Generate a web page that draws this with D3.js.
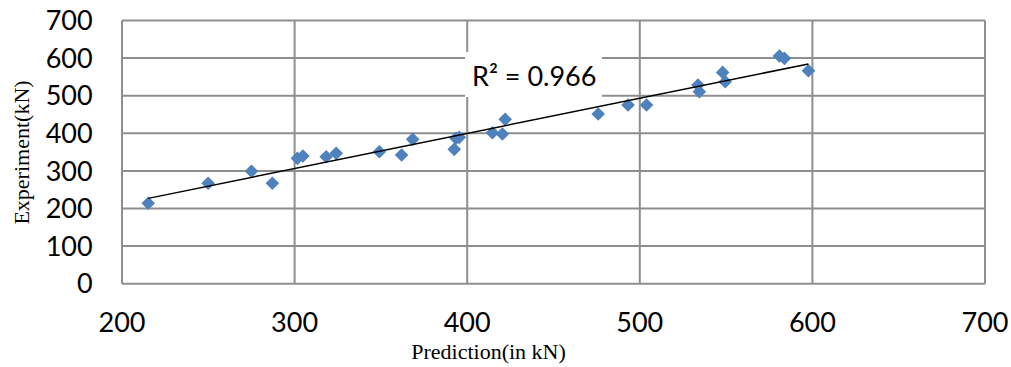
<!DOCTYPE html>
<html>
<head>
<meta charset="utf-8">
<script src="https://cdn.jsdelivr.net/npm/d3@7/dist/d3.min.js"></script>
<style>
  html, body { margin: 0; padding: 0; background: #fff; }
  svg { display: block; }
</style>
</head>
<body>
<svg id="chart" width="1011" height="367"></svg>
<script>
// Data
const prediction = [215.2, 249.9, 275.0, 287.1, 301.6, 304.8, 318.3, 324.1, 349.1, 362.0,
  368.4, 393.5, 395.4, 392.5, 414.6, 420.4, 422.0, 475.9, 493.2, 503.9,
  533.7, 534.5, 548.0, 549.5, 580.9, 583.8, 597.7];
const experiment = [213.8, 267.0, 298.9, 267.0, 333.4, 339.5, 337.7, 346.7, 351.0, 342.2,
  383.9, 386.6, 389.3, 357.3, 401.5, 398.0, 437.1, 451.2, 475.1, 475.1,
  528.3, 510.5, 562.0, 537.1, 605.4, 599.3, 566.3];
const xTicks = [200, 300, 400, 500, 600, 700];
const yTicks = [0, 100, 200, 300, 400, 500, 600, 700];
const r2Label = "R\u00B2 = 0.966";
const xTitle = "Prediction(in kN)";
const yTitle = "Experiment(kN)";

const svg = d3.select("#chart");
const x = d3.scaleLinear().domain([200, 700]).range([122, 985]);
const y = d3.scaleLinear().domain([0, 700]).range([283.7, 20.5]);

const gridColor = "#8e8e8e";
const tickFont = "Lato, 'Noto Sans', sans-serif";

// Horizontal gridlines
svg.append("g").selectAll("line").data(yTicks).join("line")
  .attr("x1", x(200)).attr("x2", x(700))
  .attr("y1", d => y(d)).attr("y2", d => y(d))
  .attr("stroke", gridColor).attr("stroke-width", 2);

// Vertical gridlines
svg.append("g").selectAll("line").data(xTicks).join("line")
  .attr("x1", d => x(d)).attr("x2", d => x(d))
  .attr("y1", y(0)).attr("y2", y(700))
  .attr("stroke", gridColor).attr("stroke-width", 2);

// Y tick labels
svg.append("g").selectAll("text").data(yTicks).join("text")
  .attr("x", 92.7).attr("y", d => y(d)).attr("dy", "0.36em")
  .attr("text-anchor", "end")
  .attr("font-family", tickFont).attr("font-size", 27).attr("fill", "#000")
  .text(d => d);

// X tick labels
svg.append("g").selectAll("text").data(xTicks).join("text")
  .attr("x", d => x(d)).attr("y", 331.5)
  .attr("text-anchor", "middle")
  .attr("font-family", tickFont).attr("font-size", 27).attr("fill", "#000")
  .text(d => d);

// Linear trendline (least squares)
const n = prediction.length;
const mx = d3.mean(prediction), my = d3.mean(experiment);
let sxy = 0, sxx = 0;
for (let i = 0; i < n; i++) {
  sxy += (prediction[i] - mx) * (experiment[i] - my);
  sxx += (prediction[i] - mx) ** 2;
}
const slope = sxy / sxx, intercept = my - slope * mx;
const [xmin, xmax] = d3.extent(prediction);

// R² label with white background
const lbl = svg.append("g");
lbl.append("rect").attr("x", 465).attr("y", 52).attr("width", 137).attr("height", 45).attr("fill", "#fff");
lbl.append("text").attr("x", 472).attr("y", 86)
  .attr("font-family", tickFont).attr("font-size", 27).attr("fill", "#000")
  .text(r2Label);

// Points (diamonds)
const sym = d3.symbol().type(d3.symbolDiamond2).size(118);
svg.append("g").selectAll("path").data(prediction.map((p, i) => [p, experiment[i]])).join("path")
  .attr("d", sym)
  .attr("transform", d => `translate(${x(d[0])},${y(d[1])})`)
  .attr("fill", "#4F81BD");

svg.append("line")
  .attr("x1", x(xmin)).attr("y1", y(intercept + slope * xmin))
  .attr("x2", x(xmax)).attr("y2", y(intercept + slope * xmax))
  .attr("stroke", "#000").attr("stroke-width", 1.5);

// Axis titles
svg.append("text").attr("x", 488.5).attr("y", 359)
  .attr("text-anchor", "middle")
  .attr("font-family", "'Liberation Serif', 'Times New Roman', serif").attr("font-size", 22)
  .text(xTitle);

svg.append("text")
  .attr("transform", "translate(28.5,152.5) rotate(-90)")
  .attr("text-anchor", "middle")
  .attr("font-family", "'Liberation Serif', 'Times New Roman', serif").attr("font-size", 22)
  .text(yTitle);
</script>
</body>
</html>
